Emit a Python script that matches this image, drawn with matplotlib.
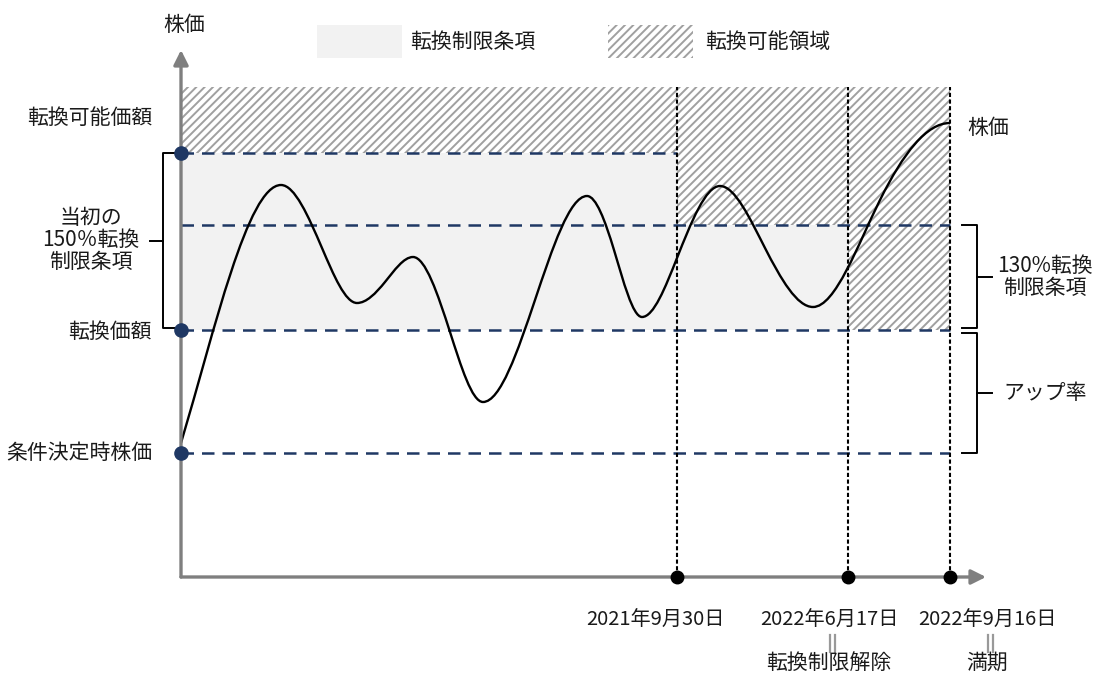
import matplotlib.pyplot as plt
from matplotlib.patches import Rectangle, PathPatch
from matplotlib.path import Path

plt.rcParams['font.family'] = ['Noto Sans CJK JP', 'DejaVu Sans']
plt.rcParams['hatch.linewidth'] = 1.4

# schematic values: x = time (from origin), y = share price (from the time axis)
TOP = 490                 # top of the shaded area
CONVERTIBLE = 424         # 転換可能価額 (150%)
LEVEL_130 = 352           # 130% level
CONVERSION = 247          # 転換価額
BASE = 124                # 条件決定時株価

DATE_X = [496, 667, 769]
DATE_LABELS = ['2021年9月30日', '2022年6月17日', '2022年9月16日']
DATE_NOTES = ['', '転換制限解除', '満期']

# restriction threshold for each period (start, end, threshold)
PERIODS = [(0, 496, CONVERTIBLE), (496, 667, LEVEL_130), (667, 769, CONVERSION)]

# share price path (start, turning points, inflections, end)
price_x = [0, 100, 141, 176, 204, 232, 269, 302, 354, 406, 433, 461, 496, 539, 584,
           632, 699, 769]
price_y = [134, 392, 329, 274, 295, 320, 245, 175, 277, 381, 327, 260, 319, 391, 329,
           270, 377, 454]

NAVY = '#1f3864'
GRAY = '#7f7f7f'
TXT = '#1a1a1a'
FS = 15


def smooth_path(xs, ys):
    # smoothed line: cubic pieces, flat at turning points
    n = len(xs)
    slopes = []
    for i in range(n):
        if i == 0:
            slopes.append(1.3 * (ys[1] - ys[0]) / (xs[1] - xs[0]))
        elif i == n - 1:
            slopes.append(0.0)
        elif (ys[i] - ys[i - 1]) * (ys[i + 1] - ys[i]) <= 0:
            slopes.append(0.0)
        else:
            slopes.append(1.5 * (ys[i + 1] - ys[i - 1]) / (xs[i + 1] - xs[i - 1]))
    verts = [(xs[0], ys[0])]
    codes = [Path.MOVETO]
    for i in range(n - 1):
        d = (xs[i + 1] - xs[i]) / 3
        verts += [(xs[i] + d, ys[i] + slopes[i] * d),
                  (xs[i + 1] - d, ys[i + 1] - slopes[i + 1] * d),
                  (xs[i + 1], ys[i + 1])]
        codes += [Path.CURVE4] * 3
    return Path(verts, codes)


fig = plt.figure(figsize=(10.96, 6.75), dpi=100)
ax = fig.add_axes([0, 0, 1, 1])
ax.set_xlim(-181, 915)
ax.set_ylim(-98, 577)
ax.axis('off')

# areas
for x0, x1, thr in PERIODS:
    if thr > CONVERSION:
        ax.add_patch(Rectangle((x0, CONVERSION), x1 - x0, thr - CONVERSION,
                               facecolor='#f2f2f2', edgecolor='none', zorder=1))
    ax.add_patch(Rectangle((x0, thr), x1 - x0, TOP - thr, facecolor='white',
                           edgecolor='#a0a0a0', linewidth=0, hatch='////', zorder=1))

# legend
ax.add_patch(Rectangle((136, 519), 85, 33, facecolor='#f2f2f2', edgecolor='none'))
ax.text(229, 535, '転換制限条項', fontsize=FS, color=TXT, va='center')
ax.add_patch(Rectangle((427, 519), 85, 33, facecolor='white', edgecolor='#a0a0a0',
                       linewidth=0, hatch='////'))
ax.text(524, 535, '転換可能領域', fontsize=FS, color=TXT, va='center')

# level lines
dash = (0, (5, 3.2))
ax.plot([0, DATE_X[0]], [CONVERTIBLE] * 2, color=NAVY, lw=1.8, ls=dash, zorder=3)
for lvl in [LEVEL_130, CONVERSION, BASE]:
    ax.plot([0, DATE_X[-1]], [lvl] * 2, color=NAVY, lw=1.8, ls=dash, zorder=3)

# date lines
for x in DATE_X:
    ax.plot([x, x], [0, TOP], color='black', lw=1.5, ls=(0, (2, 1.2)), zorder=4)

# price path
ax.add_patch(PathPatch(smooth_path(price_x, price_y), facecolor='none',
                       edgecolor='black', lw=1.7, zorder=5))

# axes with arrows
ax.annotate('', xy=(0, 527), xytext=(0, 0),
            arrowprops=dict(arrowstyle='-|>', color=GRAY, lw=2.4, mutation_scale=22,
                            shrinkA=0, shrinkB=0), zorder=6)
ax.annotate('', xy=(805, 0), xytext=(0, 0),
            arrowprops=dict(arrowstyle='-|>', color=GRAY, lw=2.4, mutation_scale=22,
                            shrinkA=0, shrinkB=0), zorder=6)

ax.plot([0, 0, 0], [CONVERTIBLE, CONVERSION, BASE], 'o', color=NAVY, ms=9.5, zorder=7)
ax.plot(DATE_X, [0] * len(DATE_X), 'o', color='black', ms=9, zorder=7)

# braces
bk = dict(color='black', lw=1.4, solid_joinstyle='round')
ax.plot([-1, -18, -18, -1], [CONVERTIBLE, CONVERTIBLE, CONVERSION + 2, CONVERSION + 2], **bk)
mid = (CONVERTIBLE + CONVERSION) / 2
ax.plot([-18, -31], [mid + 1, mid + 1], **bk)
for lo, hi in [(CONVERSION + 2, LEVEL_130), (BASE, CONVERSION - 3)]:
    ax.plot([781, 796, 796, 781], [hi, hi, lo, lo], **bk)
    ax.plot([796, 811], [(lo + hi) / 2] * 2, **bk)

# labels
ax.text(3, 552, '株価', fontsize=FS, color=TXT, ha='center', va='center')
ax.text(-29, 459, '転換可能価額', fontsize=FS, color=TXT, ha='right', va='center')
ax.text(-90, 337, '当初の\n150％転換\n制限条項', fontsize=FS, color=TXT, ha='center',
        va='center', linespacing=0.98)
ax.text(-29, 245, '転換価額', fontsize=FS, color=TXT, ha='right', va='center')
ax.text(-29, BASE, '条件決定時株価', fontsize=FS, color=TXT, ha='right', va='center')
ax.text(786, 449, '株価', fontsize=FS, color=TXT, ha='left', va='center')
ax.text(864, 300, '130%転換\n制限条項', fontsize=FS, color=TXT, ha='center',
        va='center', linespacing=0.98)
ax.text(822, 184, 'アップ率', fontsize=FS, color=TXT, ha='left', va='center')

label_x = [474, 648, 806]
for lx, lab, note in zip(label_x, DATE_LABELS, DATE_NOTES):
    ax.text(lx, -43, lab, fontsize=14.5, color=TXT, ha='center', va='center')
    if note:
        for dx in (-2.5, 2.5):
            ax.plot([lx + 3 + dx] * 2, [-58, -75], color='#999999', lw=1.6)
        ax.text(lx, -86, note, fontsize=FS, color=TXT, ha='center', va='center')

fig.savefig('out.png', dpi=100)
